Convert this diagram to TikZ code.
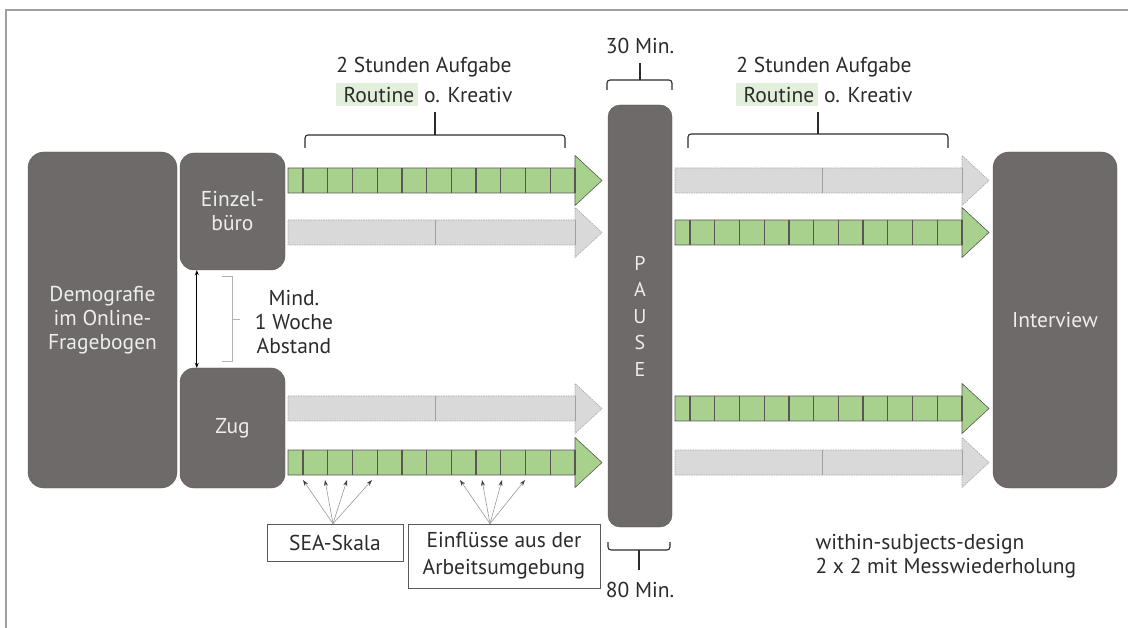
\documentclass[tikz,border=0pt]{standalone}
\usepackage{fontspec}
\setmainfont{PT Sans}
\usetikzlibrary{arrows.meta, positioning}

\definecolor{boxgray}{HTML}{6F6A6A}
\definecolor{boxedge}{HTML}{5A5656}
\definecolor{bargreen}{HTML}{A9D18E}
\definecolor{barlight}{HTML}{D9D9D9}
\definecolor{markgreen}{HTML}{E2EFDA}
\definecolor{txtgray}{HTML}{2B2B2B}

\begin{document}
\begin{tikzpicture}[x=1pt, y=-1pt, >=Stealth,
  every node/.style={font=\fontsize{21.5}{24}\selectfont, text=txtgray},
  phase/.style={draw=boxedge, fill=boxgray, rounded corners=16pt, text=white!93!black, align=center, inner sep=0pt},
  infobox/.style={draw=gray!70!black, fill=white, align=center, inner sep=3pt, line width=0.7pt},
  cellline/.style={draw=boxedge, line width=1.3pt},
  brace/.style={draw=txtgray, line width=1.1pt, rounded corners=3pt},
  pointer/.style={draw=gray!80, line width=0.6pt, -{Stealth[length=6pt, width=4pt, black!75]}},
  greenbar/.pic={
    \draw[draw=boxedge, fill=bargreen, line width=0.6pt] (0,-12.5) -- (287,-12.5) -- (287,-25) -- (314,0) -- (287,25) -- (287,12.5) -- (0,12.5) -- cycle;
    \foreach \k in {0,...,11} \draw[cellline] ({15+\k*24.73},-12.5) -- ++(0,25);
  },
  graybar/.pic={
    \draw[draw=gray!70, dash pattern=on 1.5pt off 1pt, fill=barlight, line width=0.6pt] (0,-12.5) -- (287,-12.5) -- (287,-25) -- (314,0) -- (287,25) -- (287,12.5) -- (0,12.5) -- cycle;
    \draw[gray!75, line width=1pt] (147,-12.5) -- ++(0,25) (287,-12.5) -- ++(0,25);
  }]

\useasboundingbox (0,0) rectangle (1128,628);
\draw[gray!75, line width=1.5pt] (6,628) -- (6,10) -- (1128,10);

% Phases
\node (demo) [phase, minimum width=149pt, minimum height=336pt] at (102.5,320) {Demografie\\im Online-\\Fragebogen};
\node (einzel) [phase, rounded corners=14pt, minimum width=105pt, minimum height=117pt] at (232.5,211.5) {Einzel-\\büro};
\node (zug) [phase, rounded corners=14pt, minimum width=105pt, minimum height=120pt] at (232.5,428) {Zug};
\node (pause) [phase, rounded corners=12pt, minimum width=64pt, minimum height=422pt, font=\fontsize{20}{26.5}\selectfont] at (640,316) {P\\A\\U\\S\\E};
\node (interview) [phase, minimum width=124pt, minimum height=336pt] at (1055,320) {Interview};

% Gap between sessions
\draw[line width=0.8pt, {Stealth[length=5pt, width=4pt]}-{Stealth[length=5pt, width=4pt]}] ([xshift=17pt]einzel.south west) -- ([xshift=17pt]zug.north west);
\draw[gray!60, line width=1pt] (222,277) -- (232,277) -- (232,362) -- (222,362) (232,320) -- (240,320);
\node (gap) [align=center] at (294,322) {Mind.\\1 Woche\\Abstand};

% Task bars
\pic at (288,180.5) {greenbar};
\pic at (288,232.5) {graybar};
\pic at (288,408.5) {graybar};
\pic at (288,462.5) {greenbar};
\pic at (675,180.5) {graybar};
\pic at (675,232.5) {greenbar};
\pic at (675,408.5) {greenbar};
\pic at (675,462.5) {graybar};

% Braces and durations
\draw[brace] (305,148) -- (305,135) -- (565,135) -- (565,148);
\draw[brace] (435,135) -- (435,112);
\draw[brace] (688,148) -- (688,134) -- (948,134) -- (948,148);
\draw[brace] (818,134) -- (818,112);
\draw[brace] (607,90) -- (607,80) -- (672,80) -- (672,90);
\draw[brace] (640,80) -- (640,63);
\draw[brace] (608,542) -- (608,550) -- (670,550) -- (670,542);
\draw[brace] (639,550) -- (639,570);

\node (task1) at (424,67) {2 Stunden Aufgabe};
\node (kind1) [below=-1pt of task1] {\fboxsep=4pt\colorbox{markgreen}{\hspace{4pt}Routine} o. Kreativ};
\node (task2) at (824,67) {2 Stunden Aufgabe};
\node (kind2) [below=-1pt of task2] {\fboxsep=4pt\colorbox{markgreen}{\hspace{4pt}Routine} o. Kreativ};
\node (dur1) at (640,46) {30 Min.};
\node (dur2) at (640,590) {80 Min.};

% Measurements
\node (sea) [infobox, minimum width=136pt, minimum height=37pt] at (335,542.5) {SEA-Skala};
\node (umw) [infobox, minimum width=192pt, minimum height=64pt, font=\fontsize{21.5}{27}\selectfont] at (504,556) {Einflüsse aus der\\Arbeitsumgebung};
\foreach \x [count=\i] in {303,325,347,372} \coordinate (s\i) at (\x,480);
\foreach \x [count=\i] in {460,482,502,525} \coordinate (u\i) at (\x,480);
\foreach \i in {1,...,4} {
  \draw[pointer] ([xshift=-2pt]sea.north) -- (s\i);
  \draw[pointer] ([xshift=-14pt]umw.north) -- (u\i);
}

\node (design) [align=left, anchor=west] at (812,556) {within-subjects-design\\2 x 2 mit Messwiederholung};

\end{tikzpicture}
\end{document}
